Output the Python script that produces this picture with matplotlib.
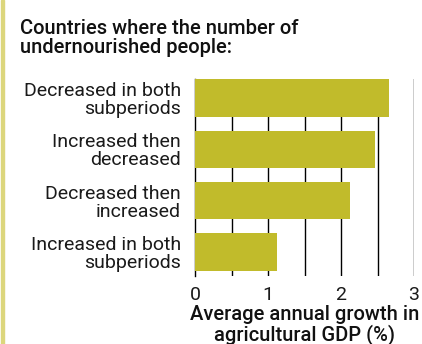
import matplotlib
matplotlib.use("Agg")
import matplotlib.pyplot as plt
from matplotlib.patches import Rectangle

categories = ["Decreased in both\nsubperiods", "Increased then\ndecreased",
              "Decreased then\nincreased", "Increased in both\nsubperiods"]
values = [2.66, 2.47, 2.12, 1.12]
xticks = [0, 1, 2, 3]
title = "Countries where the number of\nundernourished people:"
xlabel = "Average annual growth in\nagricultural GDP (%)"

plt.rcParams['font.family'] = ['Roboto', 'DejaVu Sans']

fig = plt.figure(figsize=(4.22, 3.44), dpi=100)
fig.patch.set_facecolor('white')
ax = fig.add_axes([195/422, 1-276/344, (414-195)/422, (276-79)/344])

ypos = list(range(len(categories)))
ax.barh(ypos, values, height=0.73, color='#c1bb2b', zorder=3)
ax.set_ylim(3.47, -0.37)
ax.set_xlim(0, 3)

for g in [0.5, 1, 1.5, 2, 2.5, 3]:
    ax.axvline(g, color='black', lw=1.0, zorder=1)

ax.set_xticks(xticks)
ax.set_xticklabels([str(t) for t in xticks], fontsize=14, color='#1a1a1a')
ax.set_yticks(ypos)
ax.set_yticklabels(categories, fontsize=14, color='#1a1a1a', linespacing=1.0)
ax.tick_params(axis='both', length=0)
ax.tick_params(axis='y', pad=10)
ax.tick_params(axis='x', pad=7)
for s in ['top', 'right', 'bottom']:
    ax.spines[s].set_visible(False)
ax.spines['left'].set_color('black')
ax.spines['left'].set_linewidth(1.0)
ax.spines['left'].set_zorder(2)

ax.set_xlabel(xlabel, fontsize=14.5, fontweight='medium', color='#111111',
              linespacing=0.98, labelpad=1)

fig.text(20/422, 1-19/344, title, fontsize=14.5, fontweight='medium',
         color='#111111', va='top', ha='left', linespacing=1.02)

fig.patches.append(Rectangle((1/422, 0), 3/422, 1, transform=fig.transFigure,
                             color='#dcd67c', zorder=0))

fig.savefig("out.png", dpi=100, facecolor='white')
